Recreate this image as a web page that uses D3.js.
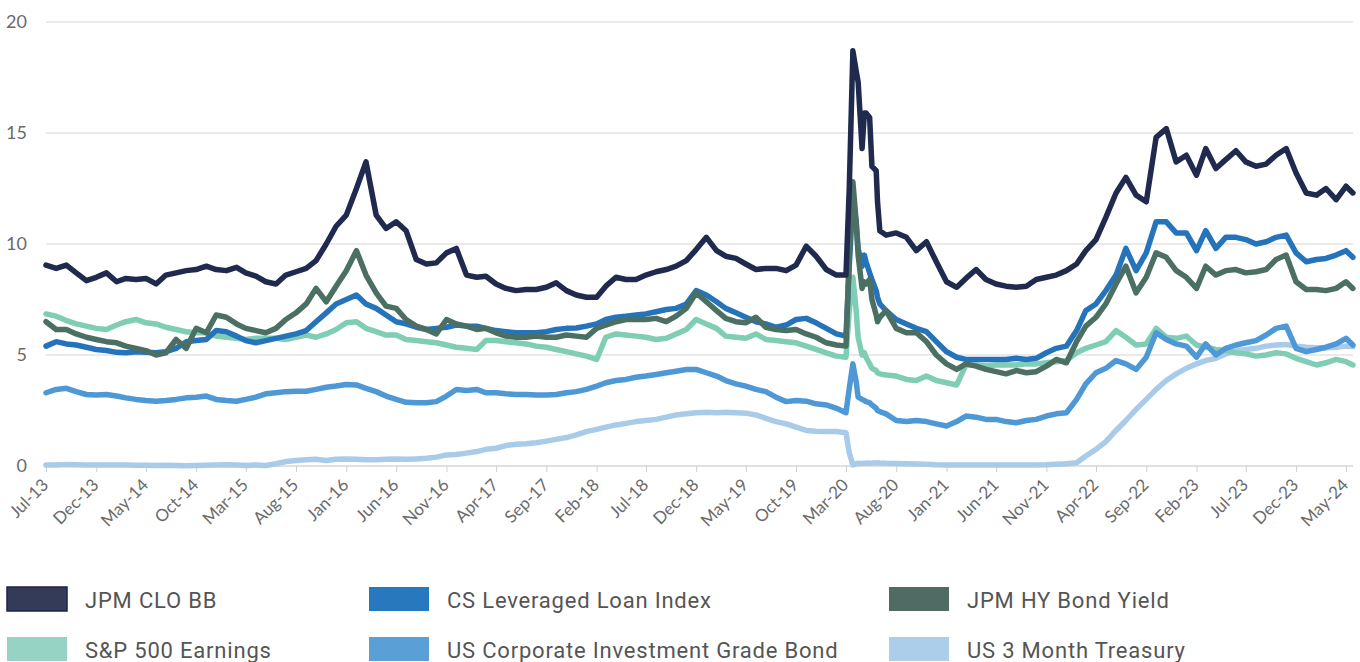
<!DOCTYPE html>
<html>
<head>
<meta charset="utf-8">
<script src="https://cdn.jsdelivr.net/npm/d3@7"></script>
<style>
  html, body { margin: 0; padding: 0; background: #ffffff; }
  svg { display: block; }
</style>
</head>
<body>
<svg id="chart" width="1360" height="662"></svg>
<script>
// ---- Data --------------------------------------------------------------
// Observation dates: month starts Jul-13..Mar-20, extra points through the
// spring 2020 sell-off, month starts Jul-20..May-24, and the last print.
const covidDates = ["2020-03-11", "2020-03-22", "2020-04-01", "2020-04-07",
  "2020-04-19", "2020-04-26", "2020-05-01", "2020-05-12", "2020-05-19",
  "2020-06-01", "2020-06-05", "2020-06-12"];
const lastDate = "2024-05-22";

const tickLabels = ["Jul-13", "Dec-13", "May-14", "Oct-14", "Mar-15", "Aug-15",
  "Jan-16", "Jun-16", "Nov-16", "Apr-17", "Sep-17", "Feb-18", "Jul-18",
  "Dec-18", "May-19", "Oct-19", "Mar-20", "Aug-20", "Jan-21", "Jun-21",
  "Nov-21", "Apr-22", "Sep-22", "Feb-23", "Jul-23", "Dec-23", "May-24"];
const yTicks = [0, 5, 10, 15, 20];

const seriesNames = ["JPM CLO BB", "CS Leveraged Loan Index", "JPM HY Bond Yield",
  "S&P 500 Earnings", "US Corporate Investment Grade Bond", "US 3 Month Treasury"];

const clobb = [
  9.05, 8.9, 9.05, 8.7, 8.35, 8.5, 8.7, 8.3, 8.45, 8.4, 8.45, 8.2,
  8.6, 8.7, 8.8, 8.85, 9.0, 8.85, 8.8, 8.95, 8.7, 8.55, 8.3, 8.2,
  8.6, 8.75, 8.9, 9.25, 10.0, 10.8, 11.3, 12.5, 13.7, 11.3, 10.7, 11.0,
  10.6, 9.3, 9.1, 9.15, 9.6, 9.8, 8.6, 8.5, 8.55, 8.2, 8.0, 7.9,
  7.95, 7.95, 8.05, 8.25, 7.9, 7.7, 7.6, 7.6, 8.1, 8.5, 8.4, 8.4,
  8.6, 8.75, 8.85, 9.0, 9.25, 9.75, 10.3, 9.7, 9.45, 9.35, 9.1, 8.85,
  8.9, 8.9, 8.8, 9.05, 9.9, 9.45, 8.85, 8.6, 8.6,
  12.5, 18.7, 17.8, 17.3, 14.3, 15.9, 15.9, 15.7, 13.5, 13.3, 11.9, 10.6,
  10.4, 10.5, 10.3, 9.7, 10.1, 9.2, 8.3, 8.05, 8.45, 8.85, 8.4, 8.2,
  8.1, 8.05, 8.1, 8.4, 8.5, 8.6, 8.8, 9.1, 9.7, 10.2, 11.2, 12.3,
  13.0, 12.2, 11.9, 14.8, 15.2, 13.7, 14.0, 13.1, 14.3, 13.4, 13.8, 14.2,
  13.7, 13.5, 13.6, 14.0, 14.3, 13.2, 12.3, 12.2, 12.5, 12.0, 12.6,
  12.3];

const leveragedLoan = [
  5.4, 5.6, 5.5, 5.45, 5.35, 5.25, 5.2, 5.12, 5.1, 5.15, 5.12, 5.1,
  5.15, 5.3, 5.6, 5.65, 5.7, 6.1, 6.05, 5.85, 5.65, 5.55, 5.65, 5.75,
  5.85, 5.95, 6.1, 6.5, 6.9, 7.3, 7.5, 7.7, 7.3, 7.1, 6.8, 6.5,
  6.4, 6.25, 6.15, 6.2, 6.25, 6.35, 6.3, 6.3, 6.2, 6.1, 6.05, 6.0,
  6.0, 6.0, 6.05, 6.15, 6.2, 6.22, 6.3, 6.4, 6.6, 6.7, 6.75, 6.8,
  6.85, 6.95, 7.05, 7.1, 7.3, 7.9, 7.7, 7.4, 7.1, 6.9, 6.7, 6.5,
  6.4, 6.25, 6.35, 6.6, 6.65, 6.45, 6.2, 5.95, 5.85,
  9.0, 12.0, 11.0, 9.8, 9.0, 9.5, 9.2, 8.7, 8.4, 7.9, 7.6, 7.3,
  7.0, 6.6, 6.4, 6.2, 6.05, 5.6, 5.15, 4.9, 4.8, 4.8, 4.8, 4.8,
  4.8, 4.85, 4.8, 4.85, 5.1, 5.3, 5.4, 6.1, 7.0, 7.3, 7.9, 8.6,
  9.8, 8.8, 9.6, 11.0, 11.0, 10.5, 10.5, 9.7, 10.6, 9.8, 10.3, 10.3,
  10.2, 10.0, 10.1, 10.3, 10.4, 9.6, 9.2, 9.3, 9.35, 9.5, 9.7,
  9.4];

const hyBond = [
  6.5, 6.15, 6.15, 5.95, 5.8, 5.7, 5.6, 5.55, 5.4, 5.3, 5.2, 5.0,
  5.1, 5.7, 5.3, 6.2, 6.0, 6.8, 6.7, 6.4, 6.2, 6.1, 6.0, 6.2,
  6.6, 6.9, 7.3, 8.0, 7.4, 8.1, 8.8, 9.7, 8.6, 7.8, 7.2, 7.1,
  6.6, 6.3, 6.15, 5.95, 6.6, 6.4, 6.3, 6.15, 6.2, 6.0, 5.85, 5.8,
  5.8, 5.85, 5.8, 5.8, 5.9, 5.85, 5.8, 6.2, 6.35, 6.5, 6.6, 6.6,
  6.6, 6.65, 6.5, 6.75, 7.1, 7.8, 7.4, 7.0, 6.65, 6.5, 6.45, 6.7,
  6.25, 6.15, 6.1, 6.15, 5.95, 5.8, 5.55, 5.45, 5.4,
  9.5, 12.8, 11.0, 9.5, 8.0, 8.3, 8.2, 8.4, 7.5, 6.8, 6.5, 6.7,
  7.0, 6.2, 6.0, 6.0, 5.6, 5.0, 4.6, 4.35, 4.6, 4.5, 4.35, 4.25,
  4.15, 4.3, 4.2, 4.25, 4.5, 4.8, 4.65, 5.6, 6.3, 6.7, 7.3, 8.2,
  9.0, 7.8, 8.5, 9.6, 9.4, 8.8, 8.5, 8.0, 9.0, 8.6, 8.8, 8.85,
  8.7, 8.75, 8.85, 9.3, 9.5, 8.3, 7.95, 7.95, 7.9, 8.0, 8.3,
  8.0];

const spxEarnings = [
  6.85, 6.75, 6.55, 6.4, 6.3, 6.2, 6.15, 6.35, 6.5, 6.6, 6.45, 6.4,
  6.25, 6.15, 6.05, 6.0, 6.0, 5.85, 5.8, 5.75, 5.7, 5.75, 5.75, 5.75,
  5.7, 5.8, 5.9, 5.8, 5.95, 6.15, 6.45, 6.5, 6.2, 6.05, 5.9, 5.9,
  5.7, 5.65, 5.6, 5.55, 5.45, 5.35, 5.3, 5.25, 5.65, 5.65, 5.6, 5.55,
  5.5, 5.4, 5.35, 5.25, 5.15, 5.05, 4.95, 4.8, 5.8, 5.95, 5.9, 5.85,
  5.8, 5.7, 5.75, 5.95, 6.15, 6.6, 6.4, 6.2, 5.85, 5.8, 5.75, 5.95,
  5.7, 5.65, 5.6, 5.55, 5.4, 5.25, 5.1, 4.95, 4.9,
  7.0, 8.5, 7.0, 5.8, 5.0, 5.1, 4.9, 4.6, 4.4, 4.3, 4.2, 4.15,
  4.1, 4.05, 3.9, 3.85, 4.05, 3.85, 3.75, 3.65, 4.55, 4.55, 4.5, 4.55,
  4.55, 4.55, 4.6, 4.6, 4.65, 4.7, 4.75, 5.1, 5.3, 5.45, 5.6, 6.1,
  5.8, 5.45, 5.5, 6.2, 5.8, 5.75, 5.85, 5.45, 5.35, 5.25, 5.2, 5.1,
  5.05, 4.95, 5.0, 5.1, 5.05, 4.85, 4.7, 4.55, 4.65, 4.8, 4.7,
  4.55];

const igBond = [
  3.3, 3.45, 3.5, 3.35, 3.22, 3.2, 3.22, 3.15, 3.07, 3.0, 2.95, 2.92,
  2.95, 3.0, 3.07, 3.1, 3.15, 3.0, 2.95, 2.92, 3.0, 3.1, 3.25, 3.3,
  3.35, 3.37, 3.37, 3.45, 3.55, 3.6, 3.67, 3.65, 3.5, 3.35, 3.15, 3.0,
  2.87, 2.85, 2.85, 2.9, 3.15, 3.45, 3.4, 3.45, 3.3, 3.3, 3.25, 3.22,
  3.22, 3.2, 3.2, 3.22, 3.3, 3.35, 3.45, 3.6, 3.75, 3.85, 3.9, 4.0,
  4.05, 4.12, 4.2, 4.27, 4.35, 4.35, 4.2, 4.05, 3.85, 3.7, 3.6, 3.45,
  3.35, 3.1, 2.9, 2.95, 2.92, 2.8, 2.75, 2.6, 2.4,
  3.5, 4.6, 3.8, 3.1, 3.0, 2.95, 2.9, 2.85, 2.75, 2.6, 2.5, 2.45,
  2.35, 2.05, 2.0, 2.05, 2.0, 1.9, 1.8, 2.0, 2.25, 2.2, 2.1, 2.1,
  2.0, 1.95, 2.05, 2.1, 2.25, 2.35, 2.4, 3.0, 3.7, 4.2, 4.4, 4.75,
  4.6, 4.35, 4.9, 6.0, 5.7, 5.5, 5.4, 4.9, 5.5, 5.0, 5.3, 5.45,
  5.55, 5.65, 5.9, 6.2, 6.3, 5.3, 5.15, 5.25, 5.35, 5.5, 5.75,
  5.45];

const treasury3m = [
  0.04, 0.05, 0.07, 0.06, 0.05, 0.04, 0.05, 0.05, 0.04, 0.03, 0.03, 0.02,
  0.03, 0.02, 0.01, 0.02, 0.03, 0.04, 0.06, 0.05, 0.02, 0.05, 0.02, 0.1,
  0.2, 0.25, 0.28, 0.3, 0.25, 0.3, 0.32, 0.3, 0.28, 0.28, 0.3, 0.32,
  0.3, 0.32, 0.35, 0.4, 0.5, 0.52, 0.58, 0.65, 0.75, 0.8, 0.92, 0.98,
  1.0, 1.05, 1.12, 1.2, 1.28, 1.4, 1.55, 1.65, 1.75, 1.85, 1.92, 2.0,
  2.05, 2.1, 2.2, 2.3, 2.35, 2.4, 2.42, 2.4, 2.42, 2.4, 2.38, 2.3,
  2.15, 2.0, 1.9, 1.75, 1.6, 1.57, 1.55, 1.55, 1.5,
  0.6, 0.05, 0.1, 0.12, 0.11, 0.12, 0.13, 0.12, 0.13, 0.14, 0.15, 0.14,
  0.12, 0.11, 0.1, 0.09, 0.08, 0.06, 0.05, 0.04, 0.05, 0.04, 0.05, 0.05,
  0.04, 0.05, 0.05, 0.05, 0.06, 0.08, 0.1, 0.15, 0.45, 0.75, 1.1, 1.6,
  2.05, 2.55, 3.0, 3.45, 3.85, 4.15, 4.4, 4.6, 4.75, 4.85, 5.05, 5.2,
  5.25, 5.3, 5.4, 5.45, 5.47, 5.4, 5.35, 5.33, 5.33, 5.35, 5.4,
  5.38];

const lineColors = ["#1f2a4e", "#2574bb", "#4b6f63", "#7fcdb5", "#4f98d6", "#a9cbea"];
const swatchColors = ["#333b58", "#2878bf", "#4f6b63", "#96d3c5", "#5b9fd7", "#acceeb"];

// ---- Dates -------------------------------------------------------------
const parse = d3.timeParse("%Y-%m-%d");
const dates = [
  ...d3.timeMonth.range(new Date(2013, 6, 1), new Date(2020, 3, 1)),
  ...covidDates.map(parse),
  ...d3.timeMonth.range(new Date(2020, 6, 1), new Date(2024, 5, 1)),
  parse(lastDate)
];
const tickDates = tickLabels.map(d3.timeParse("%b-%y"));

const seriesValues = [clobb, leveragedLoan, hyBond, spxEarnings, igBond, treasury3m];
const series = seriesNames.map((name, i) => ({
  name,
  color: lineColors[i],
  swatch: swatchColors[i],
  points: dates.map((d, j) => ({ date: d, value: seriesValues[i][j] }))
}));

// ---- Scales ------------------------------------------------------------
const svg = d3.select("#chart");
const x = d3.scaleTime()
  .domain([tickDates[0], tickDates[tickDates.length - 1]])
  .range([46, 1346]);
const y = d3.scaleLinear().domain([0, 20]).range([466, 22]);
const gridRight = 1353;

// ---- Grid and axes -----------------------------------------------------
const grid = svg.append("g");
grid.selectAll("line")
  .data(yTicks)
  .join("line")
  .attr("x1", 46).attr("x2", gridRight)
  .attr("y1", d => y(d)).attr("y2", d => y(d))
  .attr("stroke", "#d6d6d6").attr("stroke-width", 1.2);

svg.append("g")
  .selectAll("text")
  .data(yTicks)
  .join("text")
  .attr("x", 27).attr("y", d => y(d))
  .attr("dy", "0.35em")
  .attr("text-anchor", "end")
  .attr("font-family", "Lato, 'Open Sans', sans-serif")
  .attr("font-size", 18)
  .attr("fill", "#6b6b6b")
  .text(d => d);

const xAxis = d3.axisBottom(x)
  .tickValues(tickDates)
  .tickSize(6)
  .tickFormat((d, i) => tickLabels[i]);

const xg = svg.append("g")
  .attr("transform", `translate(0,${y(0)})`)
  .call(xAxis);
xg.select(".domain").attr("stroke", "#d6d6d6").attr("stroke-width", 1.2)
  .attr("d", `M46,0H${gridRight}`);
xg.selectAll(".tick line").attr("stroke", "#cfcfcf");
xg.selectAll(".tick text")
  .attr("font-family", "Lato, 'Open Sans', sans-serif")
  .attr("font-size", 17)
  .attr("fill", "#6b6b6b")
  .attr("text-anchor", "end")
  .attr("y", 0).attr("dy", 0)
  .attr("transform", "translate(3,20) rotate(-45)");

// ---- Lines -------------------------------------------------------------
const line = d3.line()
  .x(d => x(d.date))
  .y(d => y(d.value));

// lighter, lower series first so the CLO line sits on top
const drawOrder = [5, 3, 4, 1, 2, 0];
svg.append("g")
  .selectAll("path")
  .data(drawOrder.map(i => series[i]))
  .join("path")
  .attr("d", d => line(d.points))
  .attr("fill", "none")
  .attr("stroke", d => d.color)
  .attr("stroke-width", 5.5)
  .attr("stroke-linejoin", "round")
  .attr("stroke-linecap", "round");

// ---- Legend ------------------------------------------------------------
const legendCols = [7, 369, 889];
const legendRows = [587, 637];
const legend = svg.append("g");
series.forEach((s, i) => {
  const gx = legendCols[i % 3];
  const gy = legendRows[Math.floor(i / 3)];
  const g = legend.append("g").attr("transform", `translate(${gx},${gy})`);
  g.append("rect")
    .attr("width", 60).attr("height", 24)
    .attr("fill", s.swatch)
    .attr("stroke", i === 0 ? "#1c2444" : "none")
    .attr("stroke-width", i === 0 ? 1.5 : 0);
  g.append("text")
    .attr("x", 78)
    .attr("y", 13).attr("dy", "0.36em")
    .attr("font-family", "Roboto, 'Liberation Sans', sans-serif")
    .attr("font-size", 22)
    .attr("letter-spacing", 0.8)
    .attr("fill", "#555555")
    .text(s.name);
});
</script>
</body>
</html>
